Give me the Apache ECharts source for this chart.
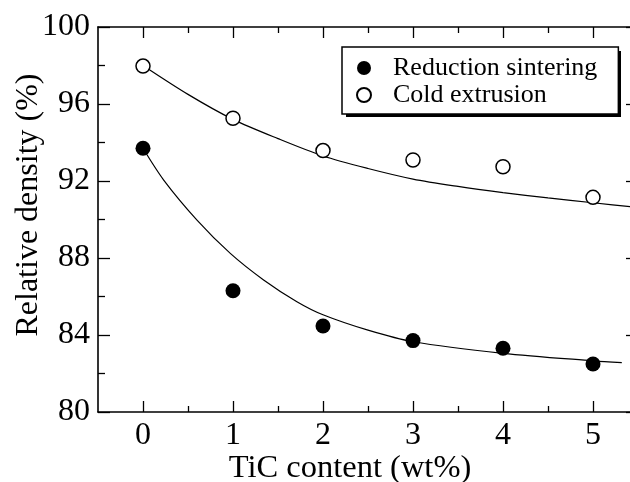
<!DOCTYPE html>
<html>
<head>
<meta charset="utf-8">
<script src="https://cdn.jsdelivr.net/npm/echarts@6/dist/echarts.min.js"></script>
<style>
html,body{margin:0;padding:0;background:#fff;}
#chart{width:630px;height:482px;}
</style>
</head>
<body>
<div id="chart"></div>
<script>
// ---- data ----
const ticContent = [0, 1, 2, 3, 4, 5];
const minorTickValues = [0.5, 1.5, 2.5, 3.5, 4.5];
const reductionSintering = [93.7, 86.3, 84.47, 83.71, 83.31, 82.49];
const coldExtrusion = [97.97, 95.26, 93.58, 93.09, 92.74, 91.15];
const fitLowerX = [0, 0.23, 0.6, 0.97, 1.34, 1.71, 2, 2.5, 3, 4, 5, 5.32];
const fitLowerY = [93.7, 92.05, 89.97, 88.24, 86.86, 85.73, 85.05, 84.25, 83.65, 83.05, 82.66, 82.56];
const fitUpperX = [0, 0.5, 1, 1.5, 2, 2.5, 3, 3.5, 4, 4.5, 5, 5.5];
const fitUpperY = [98.0, 96.5, 95.2, 94.2, 93.3, 92.65, 92.1, 91.72, 91.4, 91.12, 90.87, 90.62];
const seriesNames = ['Reduction sintering', 'Cold extrusion'];

const FONT = '"Liberation Serif", "Times New Roman", serif';
const pair = (xs, ys) => xs.map((x, i) => [x, ys[i]]);

const chart = echarts.init(document.getElementById('chart'), null, {renderer: 'canvas'});

const axisLine = {show: true, onZero: false, lineStyle: {color: '#000', width: 1.6}};
const noLine = {show: false, onZero: false};
const baseX = {type: 'value', min: -0.5, max: 5.5, splitLine: {show: false}};
const baseY = {type: 'value', min: 80, max: 100, interval: 4, splitLine: {show: false}};

chart.setOption({
  animation: false,
  backgroundColor: '#fff',
  grid: {left: 98, right: -8, top: 27, bottom: 70, containLabel: false, outerBoundsMode: 'none'},
  graphic: [{
    type: 'rect', z: 0, zlevel: 0,
    shape: {x: 346, y: 51, width: 275, height: 66},
    style: {fill: '#000'}
  }],
  legend: {
    data: seriesNames,
    orient: 'vertical',
    left: 342, top: 47,
    z: 10,
    itemWidth: 14, itemHeight: 14, itemGap: 1,
    padding: [8, 21, 6, 14],
    borderColor: '#000', borderWidth: 1.5, borderRadius: 0,
    backgroundColor: '#fff',
    formatter: name => '{t|' + name + '}',
    textStyle: {
      fontFamily: FONT, fontSize: 26, color: '#000', lineHeight: 26,
      rich: {t: {fontFamily: FONT, fontSize: 26, color: '#000', lineHeight: 26, padding: [0, 0, 0, 17]}}
    }
  },
  xAxis: [
    Object.assign({}, baseX, {
      position: 'bottom',
      axisLine: axisLine,
      axisTick: {show: true, inside: true, length: 11, customValues: ticContent, lineStyle: {color: '#000', width: 1.3}},
      axisLabel: {show: true, customValues: ticContent, margin: 8, fontFamily: FONT, fontSize: 32, color: '#000'},
      name: 'TiC content (wt%)', nameLocation: 'middle', nameGap: 40, nameMoveOverlap: false,
      nameTextStyle: {fontFamily: FONT, fontSize: 32.5, color: '#000', padding: [0, 36, 0, 0]}
    }),
    Object.assign({}, baseX, {
      position: 'bottom',
      axisLine: noLine,
      axisTick: {show: true, inside: true, length: 6, customValues: minorTickValues, lineStyle: {color: '#000', width: 1.3}},
      axisLabel: {show: false}
    }),
    Object.assign({}, baseX, {
      position: 'top',
      axisLine: axisLine,
      axisTick: {show: true, inside: true, length: 11, customValues: ticContent, lineStyle: {color: '#000', width: 1.3}},
      axisLabel: {show: false}
    }),
    Object.assign({}, baseX, {
      position: 'top',
      axisLine: noLine,
      axisTick: {show: true, inside: true, length: 6, customValues: minorTickValues, lineStyle: {color: '#000', width: 1.3}},
      axisLabel: {show: false}
    })
  ],
  yAxis: [
    Object.assign({}, baseY, {
      position: 'left',
      axisLine: axisLine,
      axisTick: {show: true, inside: true, length: 12, lineStyle: {color: '#000', width: 1.3}},
      minorTick: {show: true, splitNumber: 2, length: 7, lineStyle: {color: '#000', width: 1.3}},
      minorSplitLine: {show: false},
      axisLabel: {show: true, margin: 8, fontFamily: FONT, fontSize: 32, color: '#000'},
      name: 'Relative density (%)', nameLocation: 'middle', nameGap: 53, nameRotate: 90, nameMoveOverlap: false,
      nameTextStyle: {fontFamily: FONT, fontSize: 32, color: '#000', padding: [0, 0, 0, 29]}
    }),
    Object.assign({}, baseY, {
      position: 'right',
      axisLine: axisLine,
      axisTick: {show: true, inside: true, length: 12, lineStyle: {color: '#000', width: 1.3}},
      minorTick: {show: true, splitNumber: 2, length: 7, lineStyle: {color: '#000', width: 1.3}},
      minorSplitLine: {show: false},
      axisLabel: {show: false}
    })
  ],
  series: [
    {
      name: 'fitLower', type: 'line', xAxisIndex: 0, yAxisIndex: 0,
      data: pair(fitLowerX, fitLowerY), smooth: 0.3, showSymbol: false, symbol: 'none',
      lineStyle: {color: '#000', width: 1.2}, z: 2, silent: true
    },
    {
      name: 'fitUpper', type: 'line', xAxisIndex: 0, yAxisIndex: 0,
      data: pair(fitUpperX, fitUpperY), smooth: 0.3, showSymbol: false, symbol: 'none',
      lineStyle: {color: '#000', width: 1.2}, z: 2, silent: true
    },
    {
      name: seriesNames[0], type: 'scatter', xAxisIndex: 0, yAxisIndex: 0,
      data: pair(ticContent, reductionSintering), symbol: 'circle', symbolSize: 15,
      itemStyle: {color: '#000', opacity: 1}, z: 5
    },
    {
      name: seriesNames[1], type: 'scatter', xAxisIndex: 0, yAxisIndex: 0,
      data: pair(ticContent, coldExtrusion), symbol: 'circle', symbolSize: 14,
      itemStyle: {color: '#fff', borderColor: '#000', borderWidth: 1.5, opacity: 1}, z: 5
    }
  ]
});
</script>
</body>
</html>
